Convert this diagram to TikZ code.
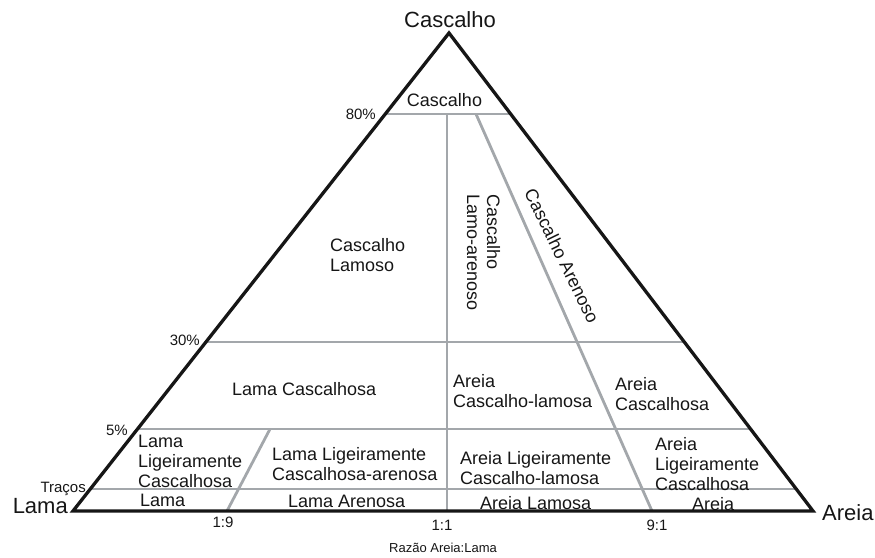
\documentclass[tikz,border=0pt]{standalone}
\usepackage{fontspec}
\setmainfont{Liberation Sans}
\definecolor{divgray}{RGB}{163,167,171}
\definecolor{ink}{RGB}{22,22,22}
% left-aligned multi-line label whose baseline is that of its first line
\newcommand{\stacked}[1]{\begin{tabular}[t]{@{}l@{}}#1\end{tabular}}
\begin{document}
\begin{tikzpicture}[x=1pt,y=-1pt,
  edge/.style={line width=3.3pt, draw=ink},
  divide/.style={line width=2.8pt, draw=divgray},
  region/.style={inner sep=0pt, text=ink, font=\fontsize{18}{20}\selectfont},
  corner/.style={inner sep=0pt, text=ink, font=\fontsize{22}{26}\selectfont},
  tick/.style={inner sep=0pt, text=ink, font=\fontsize{15}{18}\selectfont},
  axis/.style={inner sep=0pt, text=ink, font=\fontsize{13}{16}\selectfont}]
\useasboundingbox (0,0) rectangle (875,557);

% triangle corners
\coordinate (A) at (449,33);
\coordinate (L) at (73,511);
\coordinate (R) at (813,511);

% gravel-content boundaries (ends on the triangle sides)
\coordinate (g80l) at (385.3,114); \coordinate (g80r) at (510.7,114);
\coordinate (g30l) at (205.9,342); \coordinate (g30r) at (684.3,342);
\coordinate (g5l)  at (137.5,429); \coordinate (g5r)  at (750.6,429);
\coordinate (gtl)  at (90.3,489);  \coordinate (gtr)  at (796.2,489);

% sand:mud ratio boundaries
\coordinate (r11t) at (447,114);  \coordinate (r11b) at (447,511);
\coordinate (r91t) at (476,114);  \coordinate (r91b) at (652,511);
\coordinate (r19t) at (270,429);  \coordinate (r19b) at (227,511);

\draw[divide] (g80l) -- (g80r);
\draw[divide] (g30l) -- (g30r);
\draw[divide] (g5l) -- (g5r);
\draw[divide] (gtl) -- (gtr);
\draw[divide] (r11t) -- (r11b);
\draw[divide] (r91t) -- (r91b);
\draw[divide] (r19t) -- (r19b);

\draw[edge] (L) -- (A) -- (R) -- cycle;

% end-member labels
\node[corner, anchor=base] (tCas) at (450,27) {Cascalho};
\node[corner, anchor=base east] (tLam) at (68,513) {Lama};
\node[corner, anchor=base west] (tAre) at (822,520) {Areia};

% gravel percentages
\node[tick, anchor=base east] (p80) at (376,119) {80\%};
\node[tick, anchor=base east] (p30) at (200,345) {30\%};
\node[tick, anchor=base east] (p5) at (128,435) {5\%};
\node[tick, anchor=base east] (ptr) at (86,492) {Traços};

% sand:mud ratios
\node[tick, anchor=base] (q19) at (223,527) {1:9};
\node[tick, anchor=base] (q11) at (442,530) {1:1};
\node[tick, anchor=base] (q91) at (657,530) {9:1};
\node[axis, anchor=base] (qax) at (443,552) {Razão Areia:Lama};

% textural classes
\node[region, anchor=base] (cG) at (444.5,106) {Cascalho};
\node[region, anchor=base west] (cmG) at (330,251) {\stacked{Cascalho\\Lamoso}};
\node[region, anchor=base west, rotate=-90] (msG) at (487,194) {\stacked{Cascalho\\Lamo-arenoso}};
\node[region, rotate=-64] (sG) at (562,256) {Cascalho Arenoso};
\node[region, anchor=base west] (gM) at (232,395) {Lama Cascalhosa};
\node[region, anchor=base west] (gmS) at (453,387) {\stacked{Areia\\Cascalho-lamosa}};
\node[region, anchor=base west] (gS) at (615,390) {\stacked{Areia\\Cascalhosa}};
\node[region, anchor=base west] (gM2) at (138,447) {\stacked{Lama\\Ligeiramente\\Cascalhosa}};
\node[region, anchor=base west] (gsM) at (272,460) {\stacked{Lama Ligeiramente\\Cascalhosa-arenosa}};
\node[region, anchor=base west] (gmS2) at (460,464) {\stacked{Areia Ligeiramente\\Cascalho-lamosa}};
\node[region, anchor=base west] (gS2) at (655,450) {\stacked{Areia\\Ligeiramente\\Cascalhosa}};
\node[region, anchor=base west] (M) at (140,506) {Lama};
\node[region, anchor=base west] (sM) at (288,507) {Lama Arenosa};
\node[region, anchor=base west] (mS) at (480,509) {Areia Lamosa};
\node[region, anchor=base west] (S) at (692,510) {Areia};
\end{tikzpicture}
\end{document}
